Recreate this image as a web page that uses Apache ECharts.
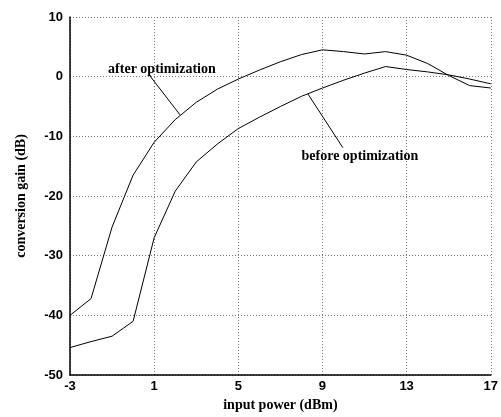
<!DOCTYPE html>
<html>
<head>
<meta charset="utf-8">
<script src="https://cdn.jsdelivr.net/npm/echarts@6/dist/echarts.min.js"></script>
<style>html,body{margin:0;padding:0;background:#fff;}#c{width:501px;height:417px;}</style>
</head>
<body>
<div id="c"></div>
<script>
const inputPower = [-3,-2,-1,0,1,2,3,4,5,6,7,8,9,10,11,12,13,14,15,16,17];
const afterOpt  = [-40,-37.2,-25.2,-16.5,-11,-7.2,-4.3,-2.1,-0.4,1.1,2.5,3.7,4.5,4.2,3.8,4.2,3.6,2.2,0.2,-1.5,-1.9];
const beforeOpt = [-45.4,-44.4,-43.5,-41.0,-27.0,-19.2,-14.3,-11.3,-8.7,-6.8,-5.0,-3.3,-1.9,-0.6,0.6,1.7,1.2,0.8,0.3,-0.4,-1.2];
const xTickLabels = ['-3','1','5','9','13','17'];
const yTicks = [-50,-40,-30,-20,-10,0,10];

const serif = '"Liberation Serif","DejaVu Serif",serif';
const sans = '"Liberation Sans",Arial,sans-serif';
const gridLine = {show:true, lineStyle:{color:'#777', width:1, type:[1,2]}};

const chart = echarts.init(document.getElementById('c'));
chart.setOption({
  backgroundColor:'#fff',
  animation:false,
  grid:{left:70, right:10, top:17, bottom:41},
  xAxis:[{
    type:'category',
    data: inputPower.map(String),
    boundaryGap:false,
    axisLine:{show:true, onZero:false, lineStyle:{color:'#000', width:1.5}},
    axisTick:{show:false},
    axisLabel:{interval:3, color:'#000', fontFamily:sans, fontWeight:'bold', fontSize:13, margin:5,
      formatter:v=> xTickLabels.includes(v) ? v : ''},
    splitLine:Object.assign({interval:3}, gridLine),
    name:'input power (dBm)', nameLocation:'middle', nameGap:23,
    nameTextStyle:{color:'#000', fontFamily:serif, fontWeight:'bold', fontSize:14}
  },{
    type:'value', min:-3, max:17, show:false, axisLine:{onZero:false}
  }],
  yAxis:{
    type:'value', min:yTicks[0], max:yTicks[yTicks.length-1], interval:10,
    axisLine:{show:true, onZero:false, lineStyle:{color:'#000', width:1.5}},
    axisTick:{show:false},
    axisLabel:{color:'#000', fontFamily:sans, fontWeight:'bold', fontSize:13, margin:7},
    splitLine:gridLine,
    name:'conversion gain (dB)', nameLocation:'middle', nameGap:42,
    nameTextStyle:{color:'#000', fontFamily:serif, fontWeight:'bold', fontSize:14}
  },
  series:[{
    name:'after optimization', type:'line', xAxisIndex:1, symbol:'none',
    lineStyle:{color:'#000', width:1},
    data: inputPower.map((x,i)=>[x, afterOpt[i]])
  },{
    name:'before optimization', type:'line', xAxisIndex:1, symbol:'none',
    lineStyle:{color:'#000', width:1},
    data: inputPower.map((x,i)=>[x, beforeOpt[i]])
  }]
});

function px(p){ return chart.convertToPixel({xAxisIndex:1, yAxisIndex:0}, p); }
const a1 = px([0.8,0.13]), a2 = px([2.23,-6.4]);
const b1 = px([8.31,-2.9]), b2 = px([9.97,-11.9]);
const ta = px([1.37,1.3]), tb = px([10.78,-13.4]);
chart.setOption({graphic:[
  {type:'line', shape:{x1:a1[0],y1:a1[1],x2:a2[0],y2:a2[1]}, style:{stroke:'#000', lineWidth:1}},
  {type:'line', shape:{x1:b1[0],y1:b1[1],x2:b2[0],y2:b2[1]}, style:{stroke:'#000', lineWidth:1}},
  {type:'text', x:ta[0], y:ta[1], style:{text:'after optimization', fill:'#000', font:'bold 14px '+serif, textAlign:'center', textVerticalAlign:'middle'}},
  {type:'text', x:tb[0], y:tb[1], style:{text:'before optimization', fill:'#000', font:'bold 14px '+serif, textAlign:'center', textVerticalAlign:'middle'}}
]});
</script>
</body>
</html>
